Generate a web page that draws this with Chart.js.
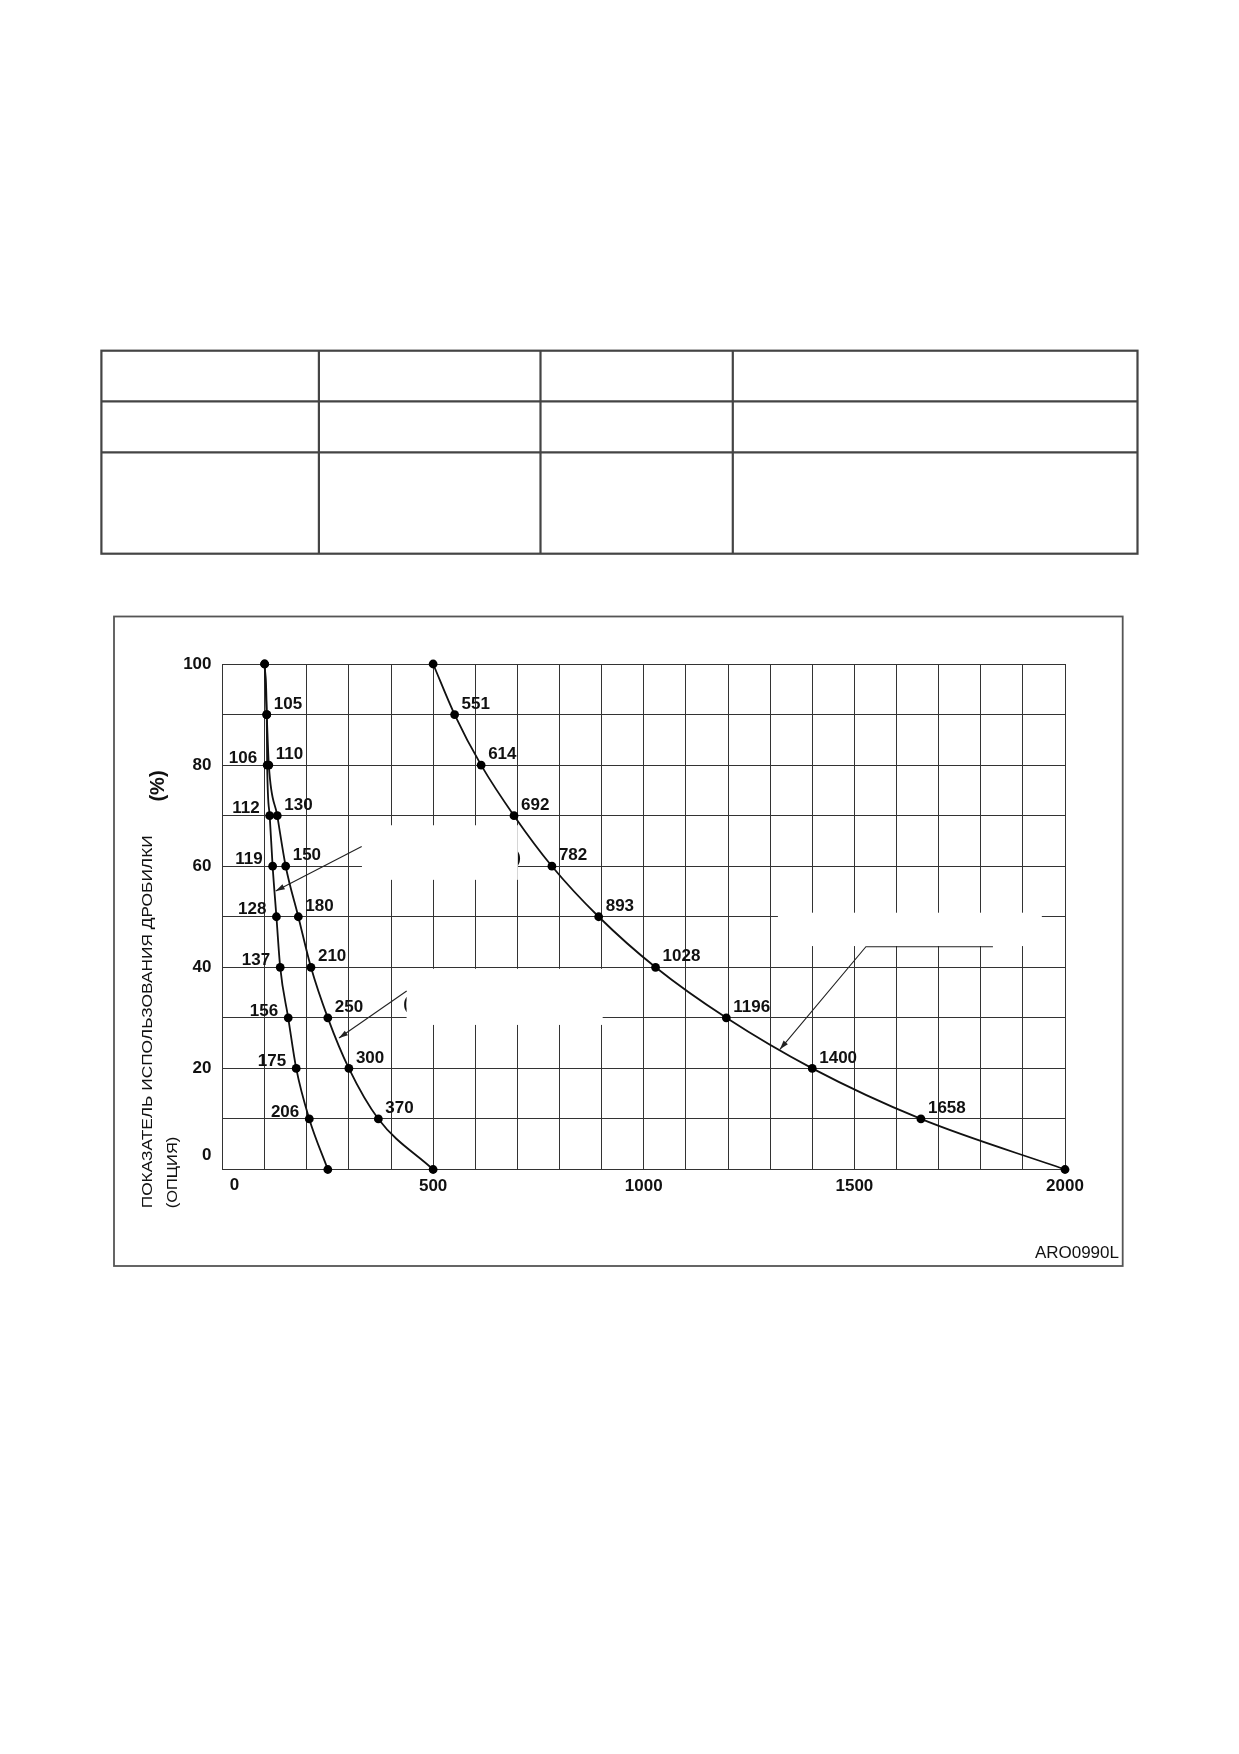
<!DOCTYPE html>
<html>
<head>
<meta charset="utf-8">
<script src="https://cdn.jsdelivr.net/npm/chart.js@4.4.1/dist/chart.umd.min.js"></script>
<style>
  body { margin: 0; background: #fff; width: 1239px; height: 1754px; position: relative; overflow: hidden; }
  svg { position: absolute; left: 0; top: 0; }
  #wrap { position: absolute; left: 114px; top: 617px; width: 1008px; height: 649px; }
  #code { position: absolute; right: 120px; top: 1243px; font: 17px "Liberation Sans", Arial, sans-serif; color: #111; }
</style>
</head>
<body>
<!-- empty form table above the chart -->
<svg width="1239" height="1754">
  <g stroke="#444" stroke-width="2.2" fill="none">
    <rect x="101.4" y="350.7" width="1036.1" height="203"/>
    <line x1="101.4" y1="401.3" x2="1137.5" y2="401.3"/>
    <line x1="101.4" y1="452.3" x2="1137.5" y2="452.3"/>
    <line x1="318.9" y1="350.7" x2="318.9" y2="553.7"/>
    <line x1="540.5" y1="350.7" x2="540.5" y2="553.7"/>
    <line x1="732.8" y1="350.7" x2="732.8" y2="553.7"/>
  </g>
  <rect x="114" y="616.5" width="1008.7" height="649.5" stroke="#555" stroke-width="1.8" fill="none"/>
</svg>
<div id="wrap"><canvas id="chart" width="1008" height="649"></canvas></div>
<div id="code">ARO0990L</div>
<script>
// utilisation index (%) for every marked point
const utilization = [100, 90, 80, 70, 60, 50, 40, 30, 20, 10, 0];
// x values of the three curves
const curveA = [100, 105, 106, 112, 119, 128, 137, 156, 175, 206, 250];
const curveB = [100, 105, 110, 130, 150, 180, 210, 250, 300, 370, 500];
const curveC = [500, 551, 614, 692, 782, 893, 1028, 1196, 1400, 1658, 2000];
const xTickLabels = [0, 500, 1000, 1500, 2000];
const yTickLabels = [0, 20, 40, 60, 80, 100];

const titleLine1 = 'ПОКАЗАТЕЛЬ ИСПОЛЬЗОВАНИЯ ДРОБИЛКИ';
const titleLine2 = '(ОПЦИЯ)';
const titleUnit = '(%)';

// blanked-out callout areas and their leader lines, in data units
const blanks = [[331, 701, 57.3, 68.1], [437, 902.5, 28.6, 39.7], [1318.5, 1945, 44.2, 50.8]];
const leaders = [
  [[330.4, 63.9], [126.3, 55.1]],
  [[437.2, 35.3], [276.5, 26.0]],
  [[1828.9, 44.07], [1527.4, 44.07], [1323.3, 23.78]]
];

const FONT = '"Liberation Sans", Arial, Helvetica, sans-serif';
const INK = '#111';
const GRID = '#333';
const NUM_FONT = 'bold 17px ' + FONT;

const pts = xs => xs.map((x, i) => ({ x: x, y: utilization[i] }));
const last = utilization.length - 1;

function makeSet(xs, side) {
  return {
    data: pts(xs),
    showLine: true,
    clip: false,
    borderColor: INK,
    borderWidth: 1.8,
    backgroundColor: '#000',
    pointBackgroundColor: '#000',
    pointBorderWidth: 0,
    pointRadius: 4.4,
    cubicInterpolationMode: 'monotone',
    labelSide: side
  };
}

const datasets = [
  makeSet(curveA, i => (i === 0 || i === last) ? null : (i === 1 ? 'right' : 'left')),
  makeSet(curveB, i => (i <= 1 || i === last) ? null : 'right'),
  makeSet(curveC, i => (i === 0 || i === last) ? null : 'right')
];

const calloutPlugin = {
  id: 'callouts',
  beforeDatasetsDraw(chart) {
    const { ctx, scales: { x, y } } = chart;
    ctx.save();
    // cut-off glyph remains at mask edges
    ctx.font = NUM_FONT;
    ctx.fillStyle = INK;
    ctx.textBaseline = 'middle';
    ctx.textAlign = 'left';
    ctx.fillText('(', x.getPixelForValue(429), y.getPixelForValue(32.7));
    ctx.textAlign = 'right';
    ctx.fillText(')', x.getPixelForValue(708.5), y.getPixelForValue(61.6));
    ctx.fillStyle = '#fff';
    blanks.forEach(b => {
      const x1 = x.getPixelForValue(b[0]), x2 = x.getPixelForValue(b[1]);
      const y1 = y.getPixelForValue(b[3]), y2 = y.getPixelForValue(b[2]);
      ctx.fillRect(x1, y1, x2 - x1, y2 - y1);
    });
    ctx.strokeStyle = '#222';
    ctx.fillStyle = '#222';
    ctx.lineWidth = 1.1;
    leaders.forEach(path => {
      const p = path.map(q => [x.getPixelForValue(q[0]), y.getPixelForValue(q[1])]);
      ctx.beginPath();
      ctx.moveTo(p[0][0], p[0][1]);
      for (let i = 1; i < p.length; i++) ctx.lineTo(p[i][0], p[i][1]);
      ctx.stroke();
      const a = p[p.length - 2], b = p[p.length - 1];
      const ang = Math.atan2(b[1] - a[1], b[0] - a[0]);
      ctx.beginPath();
      ctx.moveTo(b[0], b[1]);
      ctx.lineTo(b[0] - 9 * Math.cos(ang) + 2.8 * Math.sin(ang), b[1] - 9 * Math.sin(ang) - 2.8 * Math.cos(ang));
      ctx.lineTo(b[0] - 9 * Math.cos(ang) - 2.8 * Math.sin(ang), b[1] - 9 * Math.sin(ang) + 2.8 * Math.cos(ang));
      ctx.closePath();
      ctx.fill();
    });
    ctx.restore();
  },
  afterDatasetsDraw(chart) {
    const ctx = chart.ctx;
    ctx.save();
    ctx.font = NUM_FONT;
    ctx.fillStyle = INK;
    ctx.textBaseline = 'middle';
    chart.data.datasets.forEach((ds, di) => {
      chart.getDatasetMeta(di).data.forEach((el, i) => {
        const side = ds.labelSide(i);
        if (!side) return;
        const txt = String(ds.data[i].x);
        if (side === 'left') {
          ctx.textAlign = 'right';
          ctx.fillText(txt, el.x - 10, el.y - 7);
        } else {
          ctx.textAlign = 'left';
          ctx.fillText(txt, el.x + 7, el.y - 10.5);
        }
      });
    });
    ctx.restore();
  },
  afterDraw(chart) {
    const { ctx, chartArea: area, scales: { x, y } } = chart;
    ctx.save();
    ctx.fillStyle = INK;
    // the two zero labels sit off the axis corner
    ctx.font = NUM_FONT;
    ctx.textAlign = 'center';
    ctx.textBaseline = 'top';
    ctx.fillText('0', x.getPixelForValue(0) + 12, area.bottom + 7);
    ctx.textAlign = 'right';
    ctx.textBaseline = 'middle';
    ctx.fillText('0', area.left - 11, y.getPixelForValue(0) - 14);
    // rotated axis title, stretched to the length it has in the original
    const line = (txt, cx, bottom, len, font) => {
      ctx.save();
      ctx.font = font;
      ctx.translate(cx, bottom);
      ctx.rotate(-Math.PI / 2);
      const w = ctx.measureText(txt).width;
      ctx.scale(len / w, 1);
      ctx.textAlign = 'left';
      ctx.textBaseline = 'middle';
      ctx.fillText(txt, 0, 0);
      ctx.restore();
    };
    line(titleLine1, 34, 591.3, 373, '15.5px ' + FONT);
    line(titleLine2, 59, 591.3, 71.6, '15.5px ' + FONT);
    ctx.font = 'bold 20px ' + FONT;
    ctx.translate(44.5, 169);
    ctx.rotate(-Math.PI / 2);
    ctx.textAlign = 'center';
    ctx.textBaseline = 'middle';
    ctx.fillText(titleUnit, 0, 0);
    ctx.restore();
  }
};

new Chart(document.getElementById('chart'), {
  type: 'scatter',
  data: { datasets: datasets },
  options: {
    responsive: false,
    animation: false,
    events: [],
    layout: { padding: { left: 0, top: 47, right: 57, bottom: 0 } },
    plugins: { legend: { display: false }, tooltip: { enabled: false } },
    scales: {
      x: {
        type: 'linear',
        min: 0,
        max: 2000,
        afterFit: s => { s.height = 96.5; s.paddingLeft = 0; s.paddingRight = 0; },
        grid: { color: GRID, lineWidth: 1, drawTicks: false },
        border: { color: GRID, width: 1 },
        ticks: {
          stepSize: 100,
          autoSkip: false,
          maxRotation: 0,
          padding: 7,
          color: INK,
          font: { family: FONT, size: 17, weight: 'bold' },
          callback: v => (v !== 0 && xTickLabels.includes(v)) ? String(v) : ''
        }
      },
      y: {
        type: 'linear',
        min: 0,
        max: 100,
        afterFit: s => { s.width = 108.5; s.paddingTop = 0; s.paddingBottom = 0; },
        grid: { color: GRID, lineWidth: 1, drawTicks: false },
        border: { color: GRID, width: 1 },
        ticks: {
          stepSize: 10,
          autoSkip: false,
          padding: 11,
          color: INK,
          font: { family: FONT, size: 17, weight: 'bold' },
          callback: v => (v !== 0 && yTickLabels.includes(v)) ? String(v) : ''
        }
      }
    }
  },
  plugins: [calloutPlugin]
});
</script>
</body>
</html>
